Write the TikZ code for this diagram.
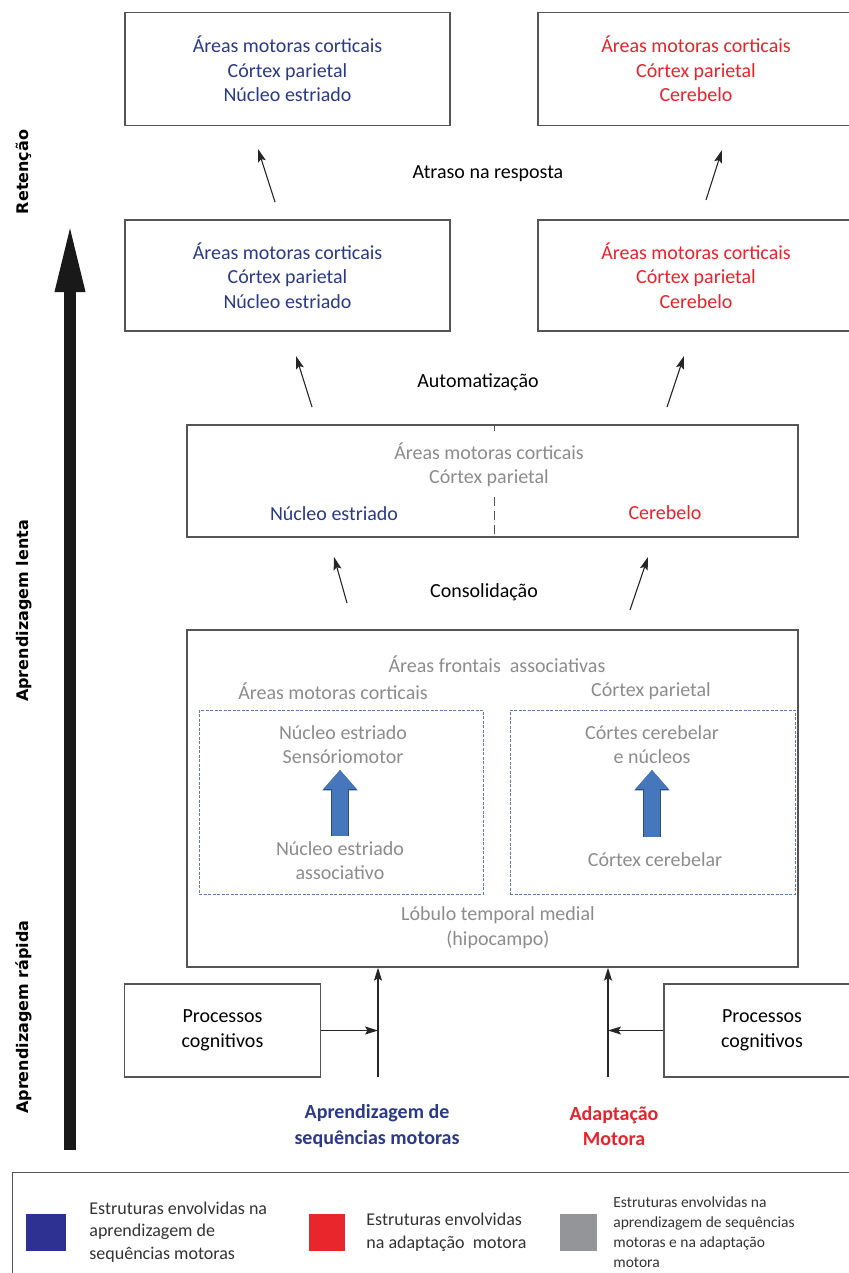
\documentclass[tikz,border=0pt]{standalone}
\usepackage{fontspec}
\setmainfont{Carlito}
\newfontfamily\sidefont{DejaVu Sans}
\usepackage{tikz}
\usetikzlibrary{positioning, arrows.meta}
\definecolor{seqblue}{RGB}{43,57,135}
\definecolor{adred}{RGB}{232,35,43}
\definecolor{mixgray}{RGB}{140,140,140}
\definecolor{boxline}{RGB}{85,85,85}
\definecolor{dashblue}{RGB}{95,125,180}
\definecolor{arrowblue}{RGB}{70,118,188}
\definecolor{legblue}{RGB}{46,49,146}
\definecolor{legred}{RGB}{232,38,43}
\definecolor{leggray}{RGB}{147,149,152}

\begin{document}
\begin{tikzpicture}[x=1pt, y=-1pt,
        every node/.style={align=center, inner sep=0pt, font=\fontsize{20}{24.5}\selectfont},
        box/.style={rectangle, draw=boxline, line width=1.3pt},
        dashbox/.style={rectangle, draw=dashblue, line width=0.9pt, dash pattern=on 3pt off 1.5pt},
        swatch/.style={rectangle, minimum height=37pt},
        legtext/.style={text=black!80, align=left, font=\fontsize{18}{22.5}\selectfont},
        sidelabel/.style={rotate=90, font=\sidefont\bfseries\fontsize{16}{19}\selectfont},
        arrow/.style={-{Stealth[length=13pt, width=8pt, inset=2.5pt]}, line width=1.1pt, black!85},
        bigarrow/.style={-{Triangle[length=70pt, width=27pt]}, line width=12pt, black!90},
        blockarrow/.style={-{Triangle[length=19pt, width=32pt]}, line width=16pt, arrowblue,
            preaction={draw, line width=17.6pt, arrowblue!65!black, -{Triangle[length=20.5pt, width=34pt]}}}
    ]
    \useasboundingbox (0,0) rectangle (848,1273);

    % Levels
    \node[box, minimum width=325, minimum height=113, text=seqblue] (retSeq) at (287.5,69)
        {Áreas motoras corticais\\Córtex parietal\\Núcleo estriado};
    \node[box, minimum width=316, minimum height=113, text=adred] (retAd) at (696,69)
        {Áreas motoras corticais\\Córtex parietal\\Cerebelo};
    \node[box, minimum width=325, minimum height=111, text=seqblue] (autSeq) at (287.5,275.5)
        {Áreas motoras corticais\\Córtex parietal\\Núcleo estriado};
    \node[box, minimum width=316, minimum height=111, text=adred] (autAd) at (696,275.5)
        {Áreas motoras corticais\\Córtex parietal\\Cerebelo};
    \node[box, minimum width=611, minimum height=112] (cons) at (492.5,481) {};
    \node[box, minimum width=611, minimum height=337] (fast) at (492.5,798.5) {};
    \node[box, minimum width=196, minimum height=93] (procSeq) at (222.5,1030.5) {Processos\\cognitivos};
    \node[box, minimum width=196, minimum height=93] (procAd) at (762,1030.5) {Processos\\cognitivos};

    % Stage labels
    \node (atraso) at (488,174) {Atraso na resposta};
    \node (autom) at (478,382) {Automatização};
    \node (consol) at (484,592) {Consolidação};

    % Consolidated structures
    \node[text=mixgray] (consShared) at (489,465) {Áreas motoras corticais\\Córtex parietal};
    \node[text=seqblue] (consSeq) at (334,514) {Núcleo estriado};
    \node[text=adred] (consAd) at (665,513) {Cerebelo};
    \coordinate (divTop) at (494,497);
    \draw[boxline, line width=1pt, dash pattern=on 9pt off 5pt] (divTop) -- (divTop |- cons.south);
    \draw[boxline, line width=1pt] (cons.north -| divTop) -- ++(0,7);

    % Fast learning structures
    \node[text=mixgray] (frontal) at (497,664) {Áreas frontais\ \ associativas};
    \node[text=mixgray] (motCort) at (333,691) {Áreas motoras corticais};
    \node[text=mixgray] (parCort) at (651,691) {Córtex parietal};
    \node[dashbox, minimum width=284, minimum height=184] (striBox) at (341,802) {};
    \node[dashbox, minimum width=285, minimum height=184] (cereBox) at (652.5,802) {};
    \node[text=mixgray] (senso) at (343,744.5) {Núcleo estriado\\Sensóriomotor};
    \node[text=mixgray] (assoc) at (340,860.5) {Núcleo estriado\\associativo};
    \node[text=mixgray] (nucleos) at (652,744.5) {Córtes cerebelar\\e núcleos};
    \node[text=mixgray] (cereb) at (655,860) {Córtex cerebelar};
    \node[text=mixgray] (lobulo) at (498,927.5) {Lóbulo temporal medial\\(hipocampo)};
    \draw[blockarrow, shorten <=5pt, shorten >=6pt] (assoc.north) -- (assoc.north |- senso.south);
    \draw[blockarrow, shorten <=16pt, shorten >=6pt] (cereb.north -| nucleos.south) -- (nucleos.south);

    % Inputs
    \node[text=seqblue, font=\bfseries\fontsize{20}{25.5}\selectfont] (seqLab) at (377,1126) {Aprendizagem de\\sequências motoras};
    \node[text=adred, font=\bfseries\fontsize{20}{25.5}\selectfont] (adLab) at (614,1126) {Adaptação\\Motora};
    \coordinate (seqIn) at (378,1077);
    \coordinate (adIn) at (608,1077);

    % Time axis
    \coordinate (axisLow) at (70,1150);
    \coordinate (axisHigh) at (70,222);
    \draw[bigarrow] (axisLow) -- (axisHigh);
    \node[sidelabel] (retencao) at (24,172) {Retenção};
    \node[sidelabel] (lenta) at (24,611) {Aprendizagem lenta};
    \node[sidelabel] (rapida) at (24,1017) {Aprendizagem rápida};

    % Arrows
    \coordinate (a1) at (275,202);   \coordinate (b1) at (258,149);
    \coordinate (a2) at (706,200);   \coordinate (b2) at (722,150);
    \coordinate (a3) at (312,407);   \coordinate (b3) at (296,356);
    \coordinate (a4) at (667,407);   \coordinate (b4) at (684,356);
    \coordinate (a5) at (347,603);   \coordinate (b5) at (334,557);
    \coordinate (a6) at (630,610);   \coordinate (b6) at (648,557);
    \foreach \i in {1,...,6}
        \draw[arrow] (a\i) -- (b\i);
    \draw[arrow] (seqIn) -- (seqIn |- fast.south);
    \draw[arrow] (adIn) -- (adIn |- fast.south);
    \draw[arrow] (procSeq.east) -- (procSeq.east -| seqIn);
    \draw[arrow] (procAd.west) -- (procAd.west -| adIn);

    % Legend
    \node[box, minimum width=850, minimum height=120, anchor=north west] (legend) at (12,1172) {};
    \node[swatch, fill=legblue, minimum width=40] (swBlue) at (46,1232) {};
    \node[swatch, fill=legred, minimum width=36] (swRed) at (327,1232) {};
    \node[swatch, fill=leggray, minimum width=37] (swGray) at (578.5,1232) {};
    \node[legtext, right=23pt of swBlue] (legSeq) {Estruturas envolvidas na\\aprendizagem de\\sequências motoras};
    \node[legtext, right=21pt of swRed] (legAd) {Estruturas envolvidas\\na adaptação\ \ motora};
    \node[legtext, right=16pt of swGray, font=\fontsize{15.5}{20}\selectfont] (legBoth)
        {Estruturas envolvidas na\\aprendizagem de sequências\\motoras e na adaptação\\motora};

\end{tikzpicture}
\end{document}
